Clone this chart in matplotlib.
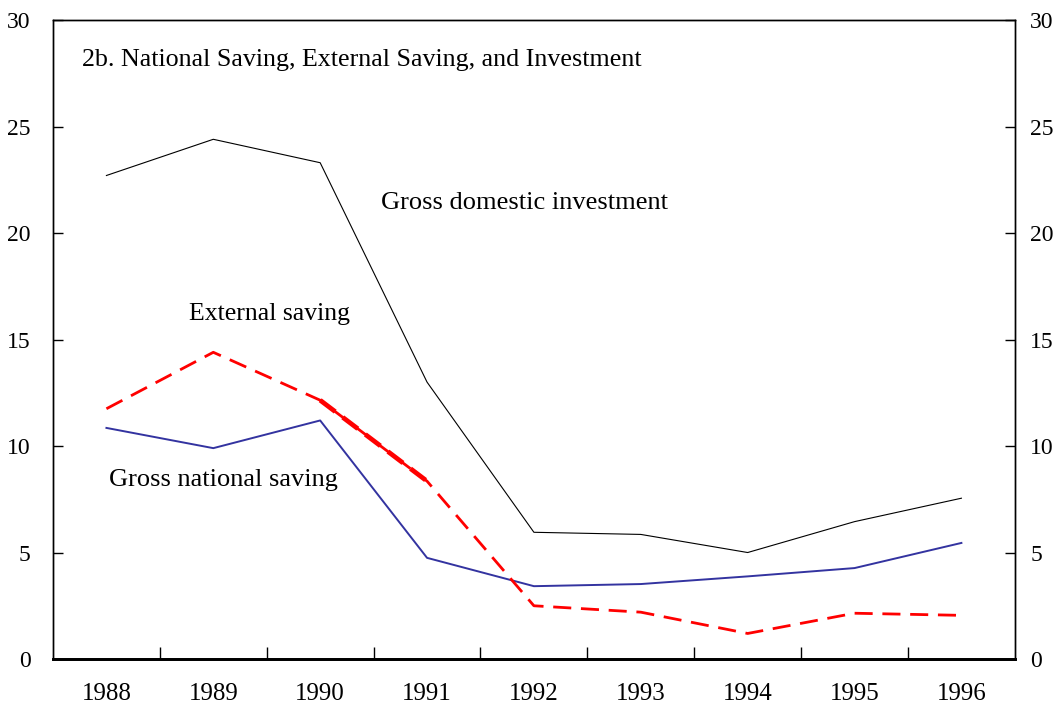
import numpy as np
import matplotlib.pyplot as plt

plt.rcParams['font.family'] = ['Liberation Serif', 'DejaVu Serif']

years = ['1988', '1989', '1990', '1991', '1992', '1993', '1994', '1995', '1996']
investment = [22.7, 24.4, 23.3, 13.0, 5.95, 5.85, 5.0, 6.45, 7.55]
national_saving = [10.85, 9.9, 11.2, 4.75, 3.42, 3.52, 3.88, 4.27, 5.45]
external_saving = [11.75, 14.4, 12.15, 8.35, 2.5, 2.2, 1.2, 2.15, 2.05]

x = np.arange(len(years))

fig = plt.figure(figsize=(10.64, 7.12), dpi=100)
ax = fig.add_axes([0.0498, 0.0744, 0.904, 0.8975])

ax.plot(x, investment, color='black', linewidth=0.8)
ax.plot(x, national_saving, color='#3333a0', linewidth=1.4)
ax.plot(x, external_saving, color='#ff0000', linewidth=2.0, dashes=(6.5, 3.5))
# the 1990-91 stretch is drawn heavier in the original
ax.plot(x[2:4], external_saving[2:4], color='#ff0000', linewidth=3.4, dashes=(4, 2))

ax.set_xlim(-0.5, len(years) - 0.5)
ax.set_ylim(0, 30)
ax.set_yticks(range(0, 31, 5))

ax.set_xticks(x)
ax.set_xticklabels(years)
ax.set_xticks(np.arange(0.5, len(years) - 1, 1), minor=True)
ax.tick_params(axis='x', which='major', length=0, pad=17, labelsize=18)
ax.tick_params(axis='x', which='minor', direction='in', length=9, width=1)
ax.tick_params(axis='y', direction='in', length=7, width=1, labelsize=17, pad=16)

# right-hand scale repeats the left one
ax2 = ax.twinx()
ax2.set_ylim(ax.get_ylim())
ax2.set_yticks(range(0, 31, 5))
ax2.tick_params(axis='y', direction='in', length=7, width=1, labelsize=17, pad=11)

for a in (ax, ax2):
    for side in ['left', 'right', 'top']:
        a.spines[side].set_linewidth(1.0)
    a.spines['bottom'].set_linewidth(2.0)

ax.text(0.03, 0.937, '2b. National Saving, External Saving, and Investment',
        transform=ax.transAxes, fontsize=18.7, va='center', ha='left')
ax.text(2.57, 21.4, 'Gross domestic investment', fontsize=19, va='center')
ax.text(0.77, 16.2, 'External saving', fontsize=18.5, va='center')
ax.text(0.02, 8.4, 'Gross national saving', fontsize=19, va='center')

plt.savefig('out.png', dpi=100)
